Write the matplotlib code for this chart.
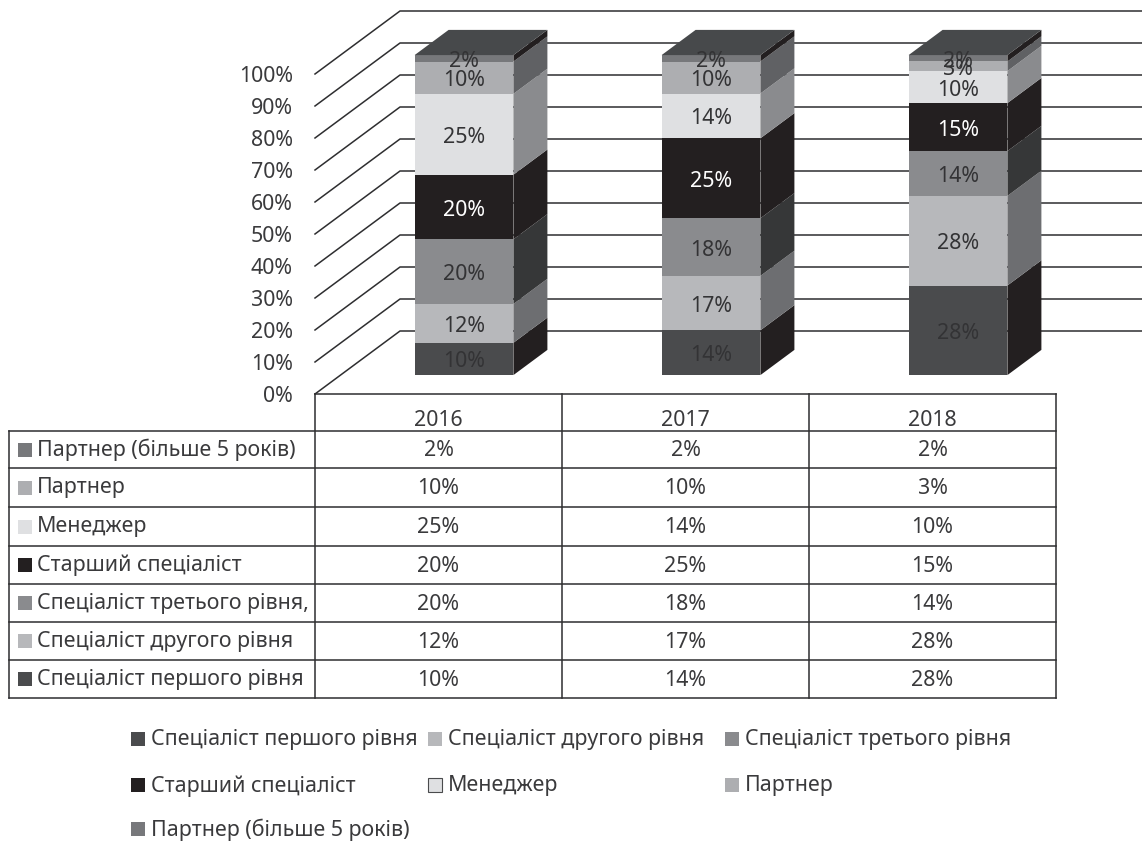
import numpy as np
import matplotlib
matplotlib.use("Agg")
import matplotlib.pyplot as plt
from matplotlib.patches import Polygon, Rectangle

plt.rcParams['font.family'] = ['Noto Sans', 'DejaVu Sans']

years = ['2016', '2017', '2018']
series = ['Спеціаліст першого рівня', 'Спеціаліст другого рівня', 'Спеціаліст третього рівня',
          'Старший спеціаліст', 'Менеджер', 'Партнер', 'Партнер (більше 5 років)']
table_names = ['Спеціаліст першого рівня', 'Спеціаліст другого рівня', 'Спеціаліст третього рівня,',
               'Старший спеціаліст', 'Менеджер', 'Партнер', 'Партнер (більше 5 років)']
first_level = [10, 14, 28]
second_level = [12, 17, 28]
third_level = [20, 18, 14]
senior = [20, 25, 15]
manager = [25, 14, 10]
partner = [10, 10, 3]
partner_5 = [2, 2, 2]
values = np.array([first_level, second_level, third_level, senior, manager, partner, partner_5])
pct_ticks = [0, 10, 20, 30, 40, 50, 60, 70, 80, 90, 100]

front_cols = ['#4a4b4d', '#b7b8bb', '#8a8b8e', '#231f20', '#dfe0e2', '#adaeb1', '#77787b']
side_cols = ['#231f20', '#6d6e71', '#363738', '#231f20', '#8a8b8e', '#606164', '#231f20']
top_col = '#47494b'
label_cols = ['#333335', '#333335', '#333335', '#ffffff', '#333335', '#333335', '#333335']
text_col = '#3a3a3c'
line_col = '#2e2e30'
FS = 15.4

W, H = 1142, 841
fig = plt.figure(figsize=(W / 100, H / 100), dpi=100)

# main plot area, front edge of floor 315..1056 px, 0-100% is 394..74 px
ax = fig.add_axes([315 / W, 1 - 394 / H, 741 / W, 320 / H])
ax.set_xlim(0, 3)
ax.set_ylim(0, 100)
for s in ax.spines.values():
    s.set_visible(False)
ax.set_xticks([])
ax.set_yticks(pct_ticks)
ax.set_yticklabels([f'{v}%' for v in pct_ticks], fontsize=FS, color=text_col)
ax.tick_params(axis='y', length=0, pad=16)
ax.patch.set_visible(False)

# oblique depth: full depth is 85 px right, 63 px up
DX = 85 / 247
DY = 63 / 3.2


def proj(x, y, d):
    return (x + d * DX, y + d * DY)


xend = (W - 315) / 247
for v in pct_ticks:
    ax.plot([0, DX, xend], [v, v + DY, v + DY], color=line_col, lw=1.1, clip_on=False, zorder=1)

bar_w = 0.4
d0, d1 = 0.3, 0.7
for i in range(len(years)):
    col = values[:, i]
    pct = col / col.sum() * 100
    bottom = 0
    xl, xr = i + 0.5 - bar_w / 2, i + 0.5 + bar_w / 2
    for j, p in enumerate(pct):
        top = bottom + p
        front = [proj(xl, bottom, d0), proj(xr, bottom, d0), proj(xr, top, d0), proj(xl, top, d0)]
        side = [proj(xr, bottom, d0), proj(xr, bottom, d1), proj(xr, top, d1), proj(xr, top, d0)]
        ax.add_patch(Polygon(side, fc=side_cols[j], ec='none', clip_on=False, zorder=3))
        ax.add_patch(Polygon(front, fc=front_cols[j], ec='none', clip_on=False, zorder=3))
        bottom = top
    roof = [proj(xl, 100, d0), proj(xr, 100, d0), proj(xr, 100, d1), proj(xl, 100, d1)]
    ax.add_patch(Polygon(roof, fc=top_col, ec='none', clip_on=False, zorder=3))
    bottom = 0
    for j, p in enumerate(pct):
        cx, cy = proj(i + 0.5, bottom + p / 2, d0)
        ax.annotate(f'{col[j]}%', (cx, cy), xytext=(0, -2.2), textcoords='offset points',
                    ha='center', va='center', fontsize=FS, color=label_cols[j], zorder=5,
                    annotation_clip=False)
        bottom += p

# overlay in pixels for the data table and legend
ov = fig.add_axes([0, 0, 1, 1])
ov.set_xlim(0, W)
ov.set_ylim(H, 0)
ov.axis('off')
ov.patch.set_visible(False)

col_x = [315, 562, 809, 1056]
row_y = [431, 468, 507, 546, 584, 622, 660, 698]
ov.plot([315, 1056], [394, 394], color=line_col, lw=1.1)
for x in col_x:
    ov.plot([x, x], [394, 698], color=line_col, lw=1.1)
ov.plot([9, 9], [431, 698], color=line_col, lw=1.1)
for y in row_y:
    ov.plot([9, 1056], [y, y], color=line_col, lw=1.1)
for i, yr in enumerate(years):
    ov.text((col_x[i] + col_x[i + 1]) / 2, 420, yr, ha='center', va='center', fontsize=FS, color=text_col)

for r in range(7):
    j = 6 - r
    yc = (row_y[r] + row_y[r + 1]) / 2
    ov.add_patch(Rectangle((18, yc - 7), 14, 14, fc=front_cols[j], ec='none'))
    ov.text(37, yc, table_names[j], ha='left', va='center', fontsize=FS, color=text_col)
    for i in range(3):
        ov.text((col_x[i] + col_x[i + 1]) / 2, yc + 1, f'{values[j, i]}%', ha='center', va='center',
                fontsize=FS, color=text_col)

leg_x = [131, 428, 725]
leg_y = [739, 785, 829]
for j, name in enumerate(series):
    lx = leg_x[j % 3]
    ly = leg_y[j // 3]
    ec = '#4a4b4d' if name == 'Менеджер' else 'none'
    ov.add_patch(Rectangle((lx, ly - 7), 14, 14, fc=front_cols[j], ec=ec, lw=0.8))
    ov.text(lx + 20, ly + 1, name, ha='left', va='center', fontsize=FS, color=text_col)

fig.savefig('out.png', dpi=100)
